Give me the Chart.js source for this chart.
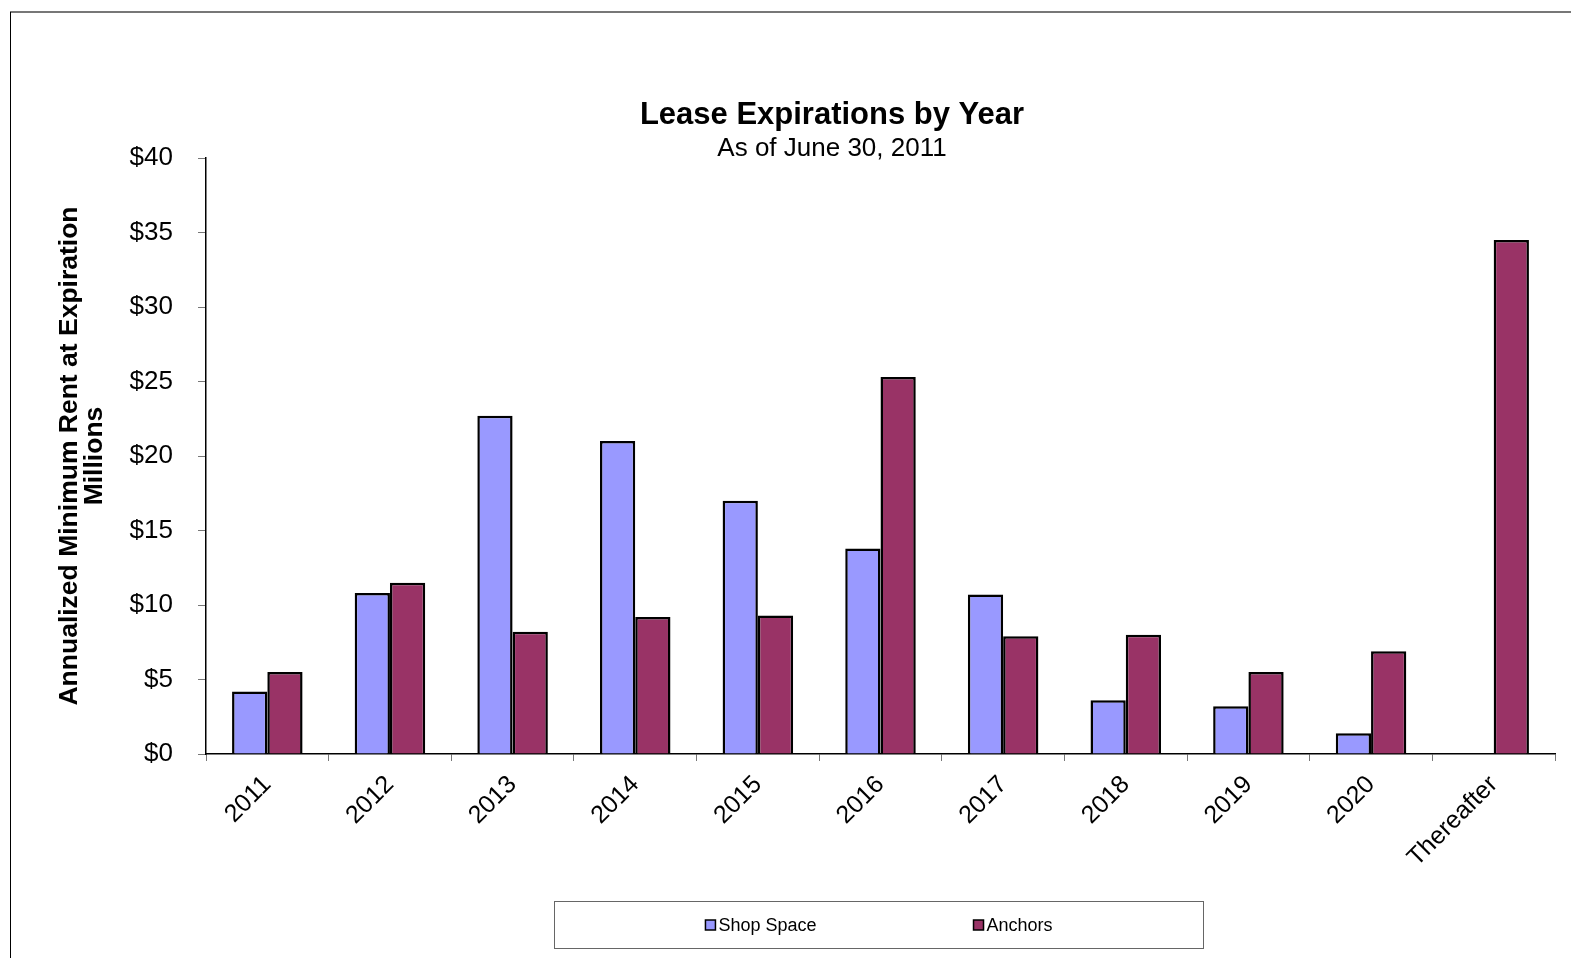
<!DOCTYPE html>
<html>
<head>
<meta charset="utf-8">
<script src="https://cdn.jsdelivr.net/npm/chart.js@4.4.1/dist/chart.umd.min.js"></script>
<style>
  html, body { margin: 0; padding: 0; background: #fff; }
  canvas { display: block; }
</style>
</head>
<body>
<canvas id="leaseChart" width="1571" height="958"></canvas>
<script>
// Données (millions de $)
const categories = ['2011', '2012', '2013', '2014', '2015', '2016', '2017', '2018', '2019', '2020', 'Thereafter'];
const shopSpace = [4.2, 10.8, 22.7, 21.0, 17.0, 13.8, 10.7, 3.6, 3.2, 1.4, 0];
const anchors = [5.5, 11.5, 8.2, 9.2, 9.3, 25.3, 7.9, 8.0, 5.5, 6.9, 34.5];
const yTicks = [0, 5, 10, 15, 20, 25, 30, 35, 40];

const chartTitle = 'Lease Expirations by Year';
const chartSubtitle = 'As of June 30, 2011';
const yTitle = ['Annualized Minimum Rent at Expiration', 'Millions'];

const FONT = '"Liberation Sans", Arial, sans-serif';

// Cadre, titre et légende dessinés à la main
const decorPlugin = {
    id: 'decor',
    beforeDraw(chart) {
        const ctx = chart.ctx;
        ctx.save();
        ctx.fillStyle = '#fff';
        ctx.fillRect(0, 0, chart.width, chart.height);
        // cadre extérieur
        ctx.strokeStyle = '#777';
        ctx.lineWidth = 2;
        ctx.beginPath();
        ctx.moveTo(10, 12);
        ctx.lineTo(chart.width, 12);
        ctx.stroke();
        ctx.strokeStyle = '#000';
        ctx.lineWidth = 1;
        ctx.beginPath();
        ctx.moveTo(10.5, 12);
        ctx.lineTo(10.5, chart.height);
        ctx.stroke();
        ctx.restore();
    },
    afterDraw(chart) {
        const ctx = chart.ctx;
        ctx.save();
        // titre
        ctx.fillStyle = '#000';
        ctx.textAlign = 'center';
        ctx.textBaseline = 'middle';
        ctx.font = 'bold 31px ' + FONT;
        ctx.fillText(chartTitle, 832, 115);
        ctx.font = '26px ' + FONT;
        ctx.fillText(chartSubtitle, 832, 149);

        // légende encadrée
        const box = { left: 554.5, top: 901.5, right: 1203.5, bottom: 948.5 };
        ctx.strokeStyle = '#666';
        ctx.lineWidth = 1;
        ctx.strokeRect(box.left, box.top, box.right - box.left, box.bottom - box.top);

        ctx.font = '18px ' + FONT;
        ctx.textAlign = 'left';
        const sq = 10, gapText = 3, gapItems = 157;
        const items = chart.data.datasets.map(ds => ({
            label: ds.label,
            color: ds.backgroundColor,
            w: sq + gapText + ctx.measureText(ds.label).width
        }));
        const total = items.reduce((s, it) => s + it.w, 0) + gapItems * (items.length - 1);
        let x = (box.left + box.right) / 2 - total / 2;
        const cy = (box.top + box.bottom) / 2;
        items.forEach(it => {
            ctx.fillStyle = it.color;
            ctx.fillRect(x, cy - sq / 2, sq, sq);
            ctx.strokeStyle = '#000';
            ctx.lineWidth = 1.5;
            ctx.strokeRect(x, cy - sq / 2, sq, sq);
            ctx.fillStyle = '#000';
            ctx.fillText(it.label, x + sq + gapText, cy + 1);
            x += it.w + gapItems;
        });
        ctx.restore();
    }
};

const ctx = document.getElementById('leaseChart').getContext('2d');
new Chart(ctx, {
    type: 'bar',
    data: {
        labels: categories,
        datasets: [{
            label: 'Shop Space',
            data: shopSpace,
            backgroundColor: '#9999FF',
            borderColor: '#000',
            borderWidth: 2.5,
            borderSkipped: 'bottom',
            categoryPercentage: 0.575,
            barPercentage: 1.0
        }, {
            label: 'Anchors',
            data: anchors,
            backgroundColor: '#993366',
            borderColor: '#000',
            borderWidth: 2.5,
            borderSkipped: 'bottom',
            categoryPercentage: 0.575,
            barPercentage: 1.0
        }]
    },
    options: {
        responsive: false,
        animation: false,
        layout: {
            padding: { left: 10, right: 16, top: 158, bottom: 0 }
        },
        plugins: {
            legend: { display: false },
            title: { display: false },
            tooltip: { enabled: false }
        },
        scales: {
            x: {
                offset: true,
                grid: {
                    offset: true,
                    drawOnChartArea: false,
                    drawTicks: true,
                    tickLength: 7,
                    color: '#777'
                },
                border: { color: '#000', width: 1.5 },
                ticks: {
                    color: '#000',
                    font: { family: FONT, size: 25 },
                    minRotation: 45,
                    maxRotation: 45,
                    padding: 9,
                    autoSkip: false
                },
                afterFit(scale) { scale.height = 204; }
            },
            y: {
                min: 0,
                max: 40,
                afterBuildTicks(scale) {
                    scale.ticks = yTicks.map(v => ({ value: v }));
                },
                grid: {
                    drawOnChartArea: false,
                    tickLength: 8,
                    color: '#777'
                },
                border: { color: '#000', width: 1.5 },
                ticks: {
                    color: '#000',
                    font: { family: FONT, size: 26 },
                    padding: 25,
                    callback: v => '$' + v
                },
                title: {
                    display: true,
                    text: yTitle,
                    color: '#000',
                    font: { family: FONT, size: 26.5, weight: 'bold', lineHeight: 0.95 },
                    padding: { top: 47, bottom: 0 }
                },
                afterFit(scale) { scale.width = 196; }
            }
        }
    },
    plugins: [decorPlugin]
});
</script>
</body>
</html>
